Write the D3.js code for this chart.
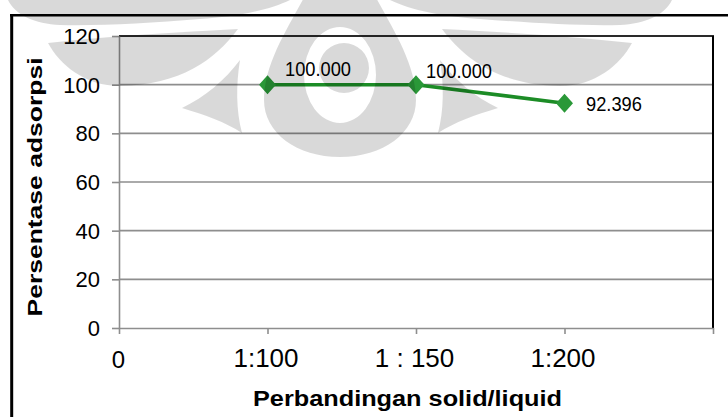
<!DOCTYPE html>
<html>
<head>
<meta charset="utf-8">
<script src="https://cdn.jsdelivr.net/npm/d3@7"></script>
<style>
  html, body { margin: 0; padding: 0; background: #fff; }
  svg { display: block; }
  text { font-family: "Liberation Sans", Arial, sans-serif; fill: #000; }
</style>
</head>
<body>
<svg id="chart" width="728" height="417"></svg>
<script>
// Adsorption percentage for each solid/liquid ratio
const ratioLabels = ["1:100", "1 : 150", "1:200"];
const adsorption = [100.000, 100.000, 92.396];
// Horizontal axis: ratios sit at positions 1..3 on a 0..4 axis
const xTickValues = [0, 1, 2, 3, 4];
const xTickLabels = ["0", "1:100", "1 : 150", "1:200", ""];
const yTickValues = [0, 20, 40, 60, 80, 100, 120];

const W = 728, H = 417;
const plot = { left: 119, right: 713, top: 36, bottom: 328 };

const svg = d3.select("#chart");
svg.append("rect").attr("width", W).attr("height", H).attr("fill", "#fff");

const x = d3.scaleLinear().domain([0, 4]).range([plot.left, plot.right]);
const y = d3.scaleLinear().domain([0, 120]).range([plot.bottom, plot.top]);

// horizontal gridlines
svg.append("g").selectAll("line")
  .data(yTickValues.filter(v => v > 0 && v < 120))
  .join("line")
  .attr("x1", plot.left).attr("x2", plot.right)
  .attr("y1", d => y(d)).attr("y2", d => y(d))
  .attr("stroke", "#8e8e8e").attr("stroke-width", 1.6);

// plot frame: dark top and right edges
svg.append("line").attr("x1", plot.left).attr("x2", plot.right + 1)
  .attr("y1", y(120)).attr("y2", y(120))
  .attr("stroke", "#2a2a2a").attr("stroke-width", 2);
svg.append("line").attr("x1", plot.right).attr("x2", plot.right)
  .attr("y1", plot.top).attr("y2", plot.bottom)
  .attr("stroke", "#000").attr("stroke-width", 2);

// y axis
const yAxis = svg.append("g")
  .attr("transform", `translate(${plot.left},0)`)
  .call(d3.axisLeft(y).tickValues(yTickValues).tickSize(7).tickPadding(12).tickSizeOuter(0));
yAxis.select(".domain").attr("stroke", "#8e8e8e").attr("stroke-width", 1.6);
yAxis.selectAll(".tick line").attr("stroke", "#8e8e8e").attr("stroke-width", 1.6);
yAxis.selectAll(".tick text")
  .style("font-family", "'Liberation Sans', Arial, sans-serif")
  .attr("font-size", 22).attr("fill", "#111").attr("dy", "0.34em");

// x axis
const xAxis = svg.append("g")
  .attr("transform", `translate(0,${plot.bottom})`)
  .call(d3.axisBottom(x).tickValues(xTickValues).tickFormat(i => xTickLabels[i])
    .tickSize(6).tickPadding(15).tickSizeOuter(0));
xAxis.select(".domain").attr("stroke", "#8e8e8e").attr("stroke-width", 1.6);
xAxis.selectAll(".tick line").attr("stroke", "#8e8e8e").attr("stroke-width", 1.6);
xAxis.selectAll(".tick text")
  .style("font-family", "'Liberation Sans', Arial, sans-serif")
  .attr("fill", "#111")
  .attr("font-size", (d, i) => i === 0 ? 24 : 26)
  .attr("dy", (d, i) => i === 0 ? "0.78em" : "0.71em")
  .attr("x", (d, i) => i === 0 ? -1 : -2);

// series line and diamond markers
const pts = adsorption.map((v, i) => ({ label: ratioLabels[i], pos: i + 1, value: v }));
svg.append("path")
  .datum(pts)
  .attr("fill", "none")
  .attr("stroke", "#1c8c26")
  .attr("stroke-width", 3.5)
  .attr("stroke-linejoin", "round")
  .attr("d", d3.line().x(d => x(d.pos)).y(d => y(d.value)));

svg.append("g").selectAll("path")
  .data(pts)
  .join("path")
  .attr("transform", d => `translate(${x(d.pos)},${y(d.value)})`)
  .attr("d", "M0,-9.5 L8.5,0 L0,9.5 L-8.5,0 Z")
  .attr("fill", "#2a9838");

// value labels
const labelOffsets = [[17.5, -8.5], [10, -6.5], [21.5, 8]];
const fmt = d3.format(".3f");
svg.append("g").selectAll("text")
  .data(pts)
  .join("text")
  .attr("transform", (d, i) =>
    `translate(${x(d.pos) + labelOffsets[i][0]},${y(d.value) + labelOffsets[i][1]}) scale(0.87,1)`)
  .attr("font-size", 21)
  .attr("fill", "#111")
  .text(d => fmt(d.value));

// axis titles
svg.append("text")
  .attr("transform", "translate(42,187) rotate(-90)")
  .attr("text-anchor", "middle")
  .attr("font-size", 21).attr("font-weight", "bold")
  .attr("textLength", 259).attr("lengthAdjust", "spacingAndGlyphs")
  .text("Persentase adsorpsi");
svg.append("text")
  .attr("x", 407.5).attr("y", 406)
  .attr("text-anchor", "middle")
  .attr("font-size", 22).attr("font-weight", "bold")
  .attr("textLength", 309).attr("lengthAdjust", "spacingAndGlyphs")
  .text("Perbandingan solid/liquid");

// outer frame (top and left edges)
svg.append("line").attr("x1", 10).attr("x2", W).attr("y1", 15.2).attr("y2", 15.2)
  .attr("stroke", "#000").attr("stroke-width", 2.6);
svg.append("line").attr("x1", 11.7).attr("x2", 11.7).attr("y1", 14).attr("y2", H)
  .attr("stroke", "#000").attr("stroke-width", 3);

// translucent background emblem laid over the chart
const emblem = svg.append("g").attr("fill", "#000").attr("fill-opacity", 0.15);
const half = [
  // upper sweep
  "M-5,-5 L296,-5 L290,0 C270,10 235,17 200,19 C150,23 100,26 60,25 C35,24 15,15 8,0 L-5,0 Z",
  // crescent under the sweep
  "M48,43 C110,36 180,32 238,29 C215,60 180,85 120,86 C85,86 60,65 48,43 Z",
  // leaf pointing outward
  "M240,60 C225,80 205,97 182,108 C205,115 225,122 242,133 C236,110 236,85 240,60 Z"
];
half.forEach(d => {
  emblem.append("path").attr("d", d);
  emblem.append("path").attr("d", d).attr("transform", "translate(680,0) scale(-1,1)");
});
// central drop with a ring cut out and an inner disc
const ellipse = (cx, cy, rx, ry) =>
  `M${cx - rx},${cy} a${rx},${ry} 0 1,0 ${2 * rx},0 a${rx},${ry} 0 1,0 ${-2 * rx},0 Z`;
emblem.append("path")
  .attr("fill-rule", "evenodd")
  .attr("d",
    "M308,-10 L372,-10 C390,25 416,62 416,100 C416,133 383,157 340,157 " +
    "C297,157 264,133 264,100 C264,62 290,25 308,-10 Z " +
    ellipse(340, 75, 36, 48) + " " + ellipse(344, 68, 25, 25));
</script>
</body>
</html>
